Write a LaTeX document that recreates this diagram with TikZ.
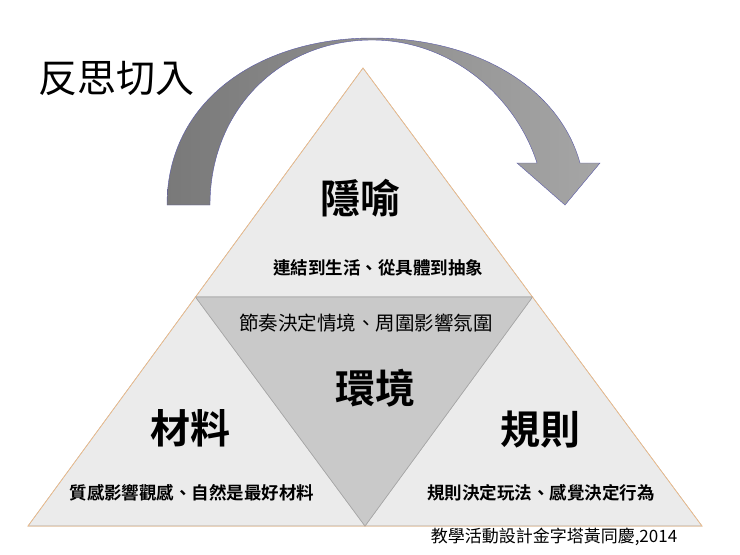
\documentclass[tikz,border=0pt]{standalone}
\usepackage{fontspec}
\setmainfont{Noto Sans CJK TC}
\newfontfamily\cjkb{Noto Sans CJK TC Bold}
\begin{document}
\begin{tikzpicture}[x=1pt,y=-1pt,
  lite/.style={fill=gray!16,draw=gray!70,line width=0.6pt},
  dark/.style={fill=gray!42,draw=gray!70,line width=0.6pt},
  big/.style={font=\cjkb\fontsize{40}{42}\selectfont},
  sub/.style={font=\cjkb\fontsize{17.5}{19}\selectfont}]
\useasboundingbox (0,0) rectangle (740,555);
\coordinate (A) at (363,68);
\coordinate (L) at (28,526);
\coordinate (R) at (702,526);
\coordinate (ML) at (195.5,297);
\coordinate (MR) at (532.5,297);
\coordinate (MB) at (365,526);
\draw[lite] (A) -- (MR) -- (ML) -- cycle;
\draw[lite] (ML) -- (MB) -- (L) -- cycle;
\draw[lite] (MR) -- (R) -- (MB) -- cycle;
\draw[dark] (ML) -- (MR) -- (MB) -- cycle;
\draw[draw=orange!50,line width=0.5pt] (A) -- (L) -- (R) -- cycle;
% arrow
\shade[left color=gray!95!black,right color=gray!70,draw=blue!30!gray,line width=0.4pt]
 (167,205) .. controls (167,100) and (260,38) .. (372,38)
 .. controls (480,38) and (560,90) .. (580,163)
 -- (600,163) -- (565,205) -- (517,163) -- (537,163)
 .. controls (515,95) and (450,40) .. (372,40)
 .. controls (280,40) and (210,110) .. (210,205) -- cycle;
\node[font=\fontsize{39}{41}\selectfont] (t0) at (116,78) {反思切入};
\node[big] (t1) at (360,198) {隱喻};
\node[sub] (s1) at (378,268) {連結到生活、從具體到抽象};
\node[font=\fontsize{19.5}{21}\selectfont] (s2) at (366,323) {節奏決定情境、周圍影響氛圍};
\node[big] (t2) at (375,388) {環境};
\node[big] (t3) at (190,428) {材料};
\node[big] (t4) at (540,430) {規則};
\node[sub] (s3) at (192,493) {質感影響觀感、自然是最好材料};
\node[sub] (s4) at (541,493) {規則決定玩法、感覺決定行為};
\node[font=\fontsize{17}{19}\selectfont] (s5) at (554,537) {教學活動設計金字塔黃同慶,2014};
\end{tikzpicture}
\end{document}
